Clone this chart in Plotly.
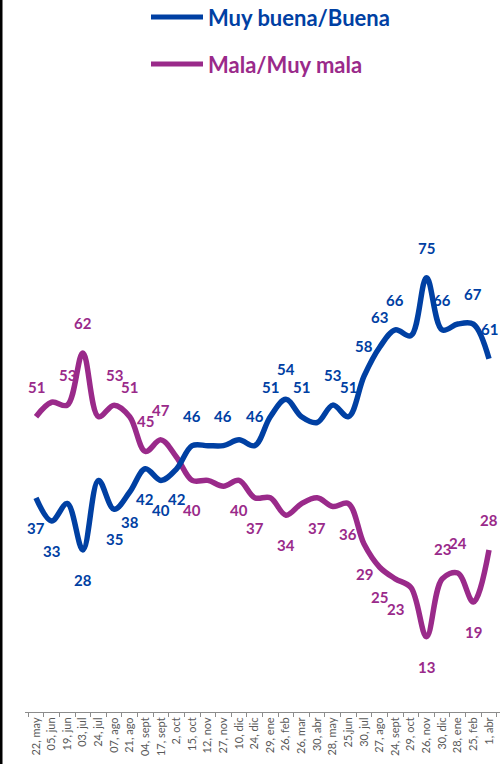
import plotly.graph_objects as go

fechas = ["22, may", "05, jun", "19, jun", "03, jul", "24, jul", "07, ago", "21, ago",
          "04, sept", "17, sept", "2, oct", "15, oct", "12, nov", "27, nov", "10, dic",
          "24, dic", "29, ene", "26, feb", "26, mar", "30, abr", "28, may", "25,jun",
          "30, jul", "27, ago", "24, sept", "29, oct", "26, nov", "30, dic", "28, ene",
          "25, feb", "1, abr"]

buena = [37, 33, 36, 28, 40, 35, 38, 42, 40, 42, 46, 46, 46, 47, 46, 51, 54, 51, 50,
         53, 51, 58, 63, 66, 65, 75, 66, 67, 67, 61]
buena_label = [1, 1, 0, 1, 0, 1, 1, 1, 1, 1, 1, 0, 1, 0, 1, 1, 1, 1, 0,
               1, 1, 1, 1, 1, 0, 1, 1, 0, 1, 1]

mala = [51, 53.5, 53, 62, 51, 53, 51, 45, 47, 44, 40, 40, 39, 40, 37, 37, 34, 36, 37,
        35.5, 36, 29, 25, 23, 21.5, 13, 23, 24, 19, 28]
mala_label = [1, 0, 1, 1, 0, 1, 1, 1, 1, 0, 1, 0, 0, 1, 1, 0, 1, 0, 1,
              0, 1, 1, 1, 1, 0, 1, 1, 1, 1, 1]

series_names = ["Muy buena/Buena", "Mala/Muy mala"]

BLUE = "#0040A3"
PURPLE = "#9A2A8A"
FONT = "Lato"

# label placement (above: -1, below: +1)
buena_side = [1] * 10 + [-1] * 20
mala_side = [-1] * 10 + [1] * 16 + [-1, -1, 1, -1]

fig = go.Figure()
fig.add_trace(go.Scatter(x=fechas, y=mala, mode="lines", name=series_names[1],
                         line=dict(color=PURPLE, width=5.5, shape="spline", smoothing=1),
                         showlegend=False, hoverinfo="skip"))
fig.add_trace(go.Scatter(x=fechas, y=buena, mode="lines", name=series_names[0],
                         line=dict(color=BLUE, width=5.5, shape="spline", smoothing=1),
                         showlegend=False, hoverinfo="skip"))

annotations = []
for vals, flags, sides, col in [(buena, buena_label, buena_side, BLUE),
                                (mala, mala_label, mala_side, PURPLE)]:
    for f, v, s, c in zip(fechas, vals, sides, flags):
        if not c:
            continue
        annotations.append(dict(x=f, y=v, xref="x", yref="y", text=f"<b>{round(v)}</b>",
                                showarrow=False, yshift=-30 * s,
                                font=dict(family=FONT, size=15, color=col)))

# manual legend
shapes = []
for i, (nm, col) in enumerate(zip(series_names, [BLUE, PURPLE])):
    ypix = 17 + i * 47
    yp = (764 - 52 - ypix) / 579
    shapes.append(dict(type="line", xref="paper", yref="paper",
                       x0=(151 - 25) / 475, x1=(203 - 25) / 475, y0=yp, y1=yp,
                       line=dict(color=col, width=5)))
    annotations.append(dict(x=(206 - 25) / 475, y=yp, xref="paper",
                            yref="paper", xanchor="left", yanchor="middle", showarrow=False,
                            text=f"<b>{nm}</b>",
                            font=dict(family=FONT, size=22, color=col)))

# left border
shapes.append(dict(type="rect", xref="paper", yref="paper", x0=-25 / 475, x1=-22.5 / 475,
                   y0=-52 / 579, y1=(764 - 52) / 579, fillcolor="#000000", line=dict(width=0)))

fig.update_layout(
    width=504, height=764,
    margin=dict(l=25, r=4, t=133, b=52, autoexpand=False),
    paper_bgcolor="white", plot_bgcolor="white",
    annotations=annotations, shapes=shapes,
    xaxis=dict(type="category", showgrid=False, showline=True, linecolor="#8C8C8C",
               linewidth=1, ticks="outside", tickson="boundaries", ticklen=4,
               tickcolor="#8C8C8C", tickangle=-90, automargin=False,
               tickfont=dict(family=FONT, size=11, color="#595959")),
    yaxis=dict(range=[0, 100], visible=False, showgrid=False, zeroline=False),
)

fig.write_html("out.html", config={"displayModeBar": False},
               post_script="document.body.style.margin='0';document.body.style.overflow='hidden';")
